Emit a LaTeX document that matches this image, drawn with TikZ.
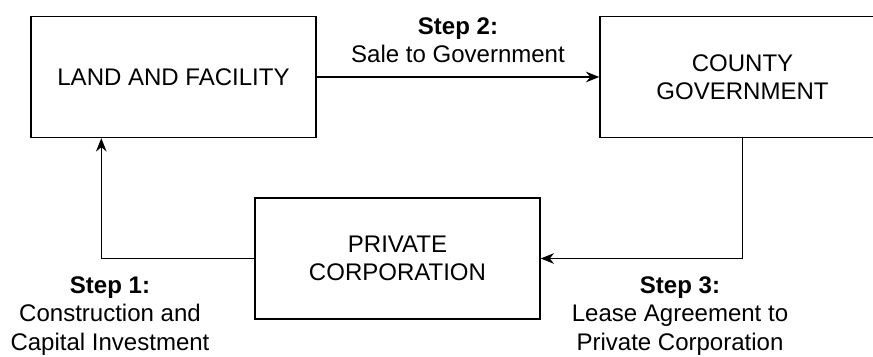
\documentclass[tikz,border=0pt]{standalone}
\usepackage{fontspec}
\setmainfont{Liberation Sans}
\usetikzlibrary{arrows.meta}

\begin{document}
\begin{tikzpicture}[every text node part/.style={align=center},
    font=\fontsize{20.5}{24}\selectfont,
    box/.style={draw, line width=1.2pt, minimum width=8.55cm, minimum height=3.63cm},
    flow/.style={line width=1.2pt, -{Stealth[length=0.4cm, width=0.32cm]}}]
    \useasboundingbox (0,0) rectangle (26.19,10.68);

%Kaesten
    \node[box] (land) at (5.205,8.37) {LAND AND FACILITY};
    \node[box] (county) at (22.275,8.37) {COUNTY\\GOVERNMENT};
    \node[box] (private) at (11.925,2.925) {PRIVATE\\CORPORATION};

%Pfeile
    \coordinate (landin) at ([xshift=2.13cm]land.south west);
    \draw[flow] (land) -- (county);
    \draw[flow] (county.south) |- (private.east);
    \draw[flow] (private.west) -| (landin);

%Schritte
    \node (step2) at (13.74,9.48)
        {\textbf{Step 2:}\\Sale to Government};
    \node (step1) at (3.3,1.2)
        {\textbf{Step 1:}\\Construction and\\Capital Investment};
    \node (step3) at (20.4,1.2)
        {\textbf{Step 3:}\\Lease Agreement to\\Private Corporation};

\end{tikzpicture}
\end{document}
